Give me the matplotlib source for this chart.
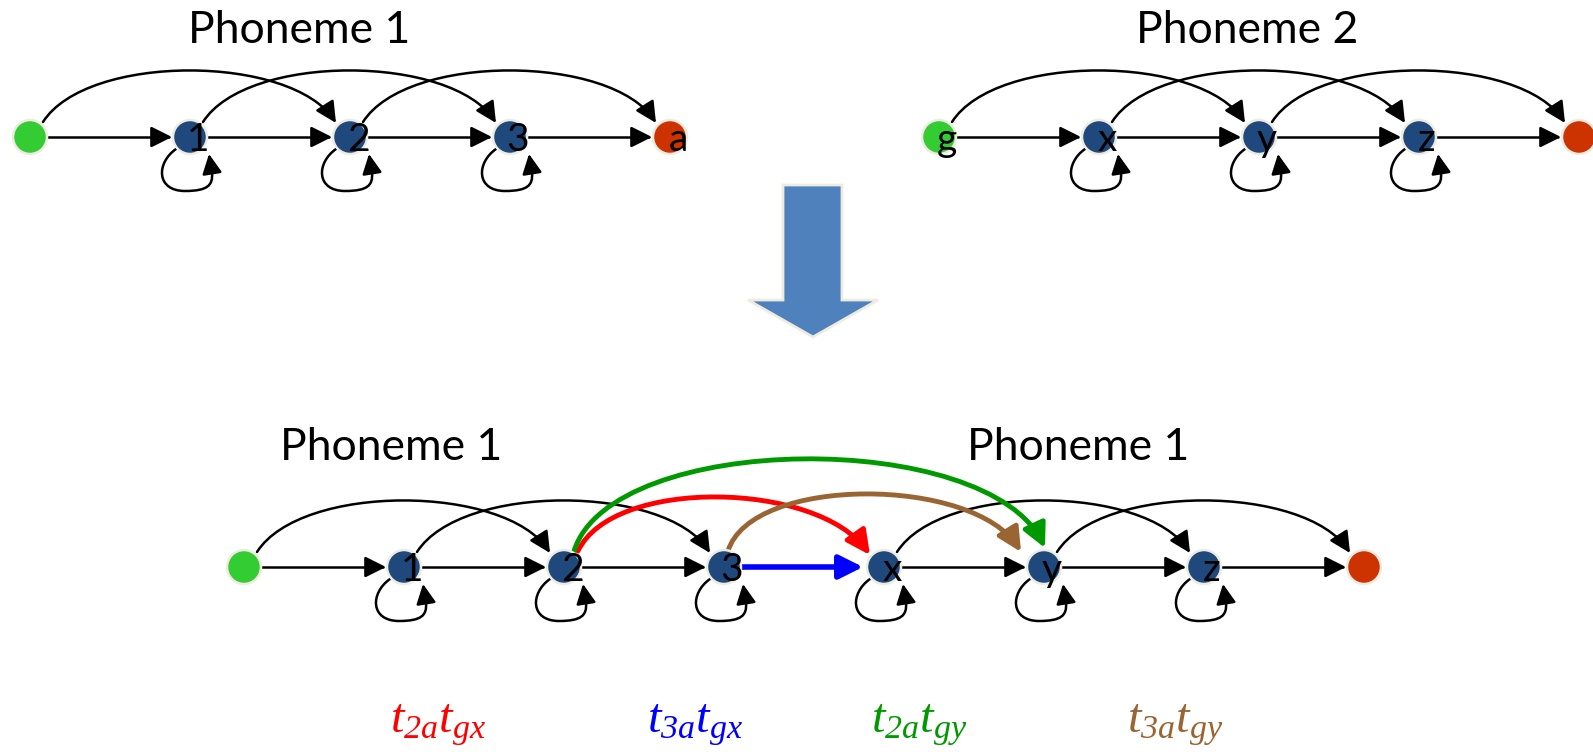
import matplotlib.pyplot as plt
from matplotlib.patches import Circle, FancyArrowPatch, Polygon
from matplotlib.path import Path

plt.rcParams['mathtext.fontset'] = 'custom'
plt.rcParams['mathtext.rm'] = 'Liberation Serif:italic'
plt.rcParams['mathtext.it'] = 'Liberation Serif:italic'

# node labels of each chain ('' = unlabeled entry / exit state)
top_left_labels = ['', '1', '2', '3', 'a']
top_right_labels = ['g', 'x', 'y', 'z', '']
bottom_labels = ['', '1', '2', '3', 'x', 'y', 'z', '']

top_titles = ['Phoneme 1', 'Phoneme 2']
bottom_titles = ['Phoneme 1', 'Phoneme 1']

# skip transitions (i -> i+2) in the merged chain
bottom_skips = [(0, 2), (1, 3), (4, 6), (5, 7)]
# cross-phoneme transitions in the merged chain
cross_edges = [(2, 4), (3, 4), (2, 5), (3, 5)]
cross_colors = ['#ff0000', '#0000ff', '#009900', '#996633']
cross_labels = [r'$t_{2a}t_{gx}$', r'$t_{3a}t_{gx}$', r'$t_{2a}t_{gy}$', r'$t_{3a}t_{gy}$']

STEP = 160
R = 17
BLUE = '#1f497d'
GREEN = '#33cc33'
RED = '#cc3300'
RIM = '#eeece1'
FONT = 'Lato'

fig = plt.figure(figsize=(15.93, 7.52), dpi=100)
ax = fig.add_axes([0, 0, 1, 1])
ax.set_xlim(0, 1593)
ax.set_ylim(752, 0)
ax.axis('off')


def arrow(path, color='black', lw=1.8, ms=32):
    ax.add_patch(FancyArrowPatch(path=path, arrowstyle='-|>,head_length=0.4,head_width=0.2',
                                 mutation_scale=ms, lw=lw, color=color, zorder=2))


def arc(p0, p3, h, color='black', lw=1.8, ms=32, a=0.15, b=0.15):
    span = p3[0] - p0[0]
    verts = [p0, (p0[0] + a * span, p0[1] - h), (p3[0] - b * span, p3[1] - h), p3]
    arrow(Path(verts, [Path.MOVETO, Path.CURVE4, Path.CURVE4, Path.CURVE4]), color, lw, ms)


def self_loop(x, y):
    verts = [(x - 14, y + 12),
             (x - 34, y + 26), (x - 34, y + 54), (x - 5, y + 54),
             (x + 18, y + 54), (x + 23, y + 48), (x + 22, y + 36),
             (x + 19, y + 17)]
    codes = [Path.MOVETO] + [Path.CURVE4] * 6 + [Path.LINETO]
    arrow(Path(verts, codes), ms=30)


def chain(x0, y, labels, skips=None, skip_straight=()):
    n = len(labels)
    xs = [x0 + i * STEP for i in range(n)]
    for i, (x, lab) in enumerate(zip(xs, labels)):
        fc = GREEN if i == 0 else (RED if i == n - 1 else BLUE)
        ax.add_patch(Circle((x, y), R, fc=fc, ec=RIM, lw=1.8, zorder=3))
        if lab:
            ax.text(x + 8, y + 3, lab, ha='center', va='center', fontsize=28,
                    family=FONT, zorder=4)
        if 0 < i < n - 1:
            self_loop(x, y)
    for i in range(n - 1):
        if i not in skip_straight:
            arrow(Path([(xs[i] + R, y), (xs[i + 1] - R - 1, y)]))
    if skips is None:
        skips = [(i, i + 2) for i in range(n - 2)]
    for i, j in skips:
        arc((xs[i] + 13, y - 15), (xs[j] - 14, y - 14), 69)
    return xs


y_top, y_bot = 137, 567
chain(30, y_top, top_left_labels)
chain(939, y_top, top_right_labels)
xs = chain(244, y_bot, bottom_labels, bottom_skips, skip_straight=(3,))

for cx, t in zip([299, 1247], top_titles):
    ax.text(cx, 43, t, ha='center', va='baseline', fontsize=32, family=FONT)
for cx, t in zip([391, 1078], bottom_titles):
    ax.text(cx, 460, t, ha='center', va='baseline', fontsize=32, family=FONT)

# big down arrow between the two rows
ax.add_patch(Polygon([(783, 185), (842, 185), (842, 300), (878, 300), (813, 337),
                      (748, 300), (783, 300)], closed=True, fc='#4f81bd', ec=RIM,
                     lw=2, zorder=2))

# cross-phoneme transitions
for (i, j), col in zip(cross_edges, cross_colors):
    if j - i == 1:
        arrow(Path([(xs[i] + R, y_bot), (xs[j] - R - 4, y_bot)]), col, lw=4, ms=36)
    elif i == 2 and j == 4:
        arc((xs[i] + 14, y_bot - 16), (xs[j] - 14, y_bot - 12), 74, col, lw=3.5, ms=36,
            a=0.12, b=0.18)
    elif i == 2 and j == 5:
        arc((xs[i] + 10, y_bot - 16), (xs[j] + 1, y_bot - 19), 120, col, lw=3.5, ms=36,
            a=0.08, b=0.12)
    else:
        arc((xs[i] + 4, y_bot - 16), (xs[j] - 23, y_bot - 15), 76, col, lw=3.5, ms=36,
            a=0.08, b=0.16)

for cx, t, col in zip([438, 695, 919, 1175], cross_labels, cross_colors):
    ax.text(cx, 732, t, ha='center', va='baseline', fontsize=35, color=col)

fig.savefig('out.png', dpi=100)
